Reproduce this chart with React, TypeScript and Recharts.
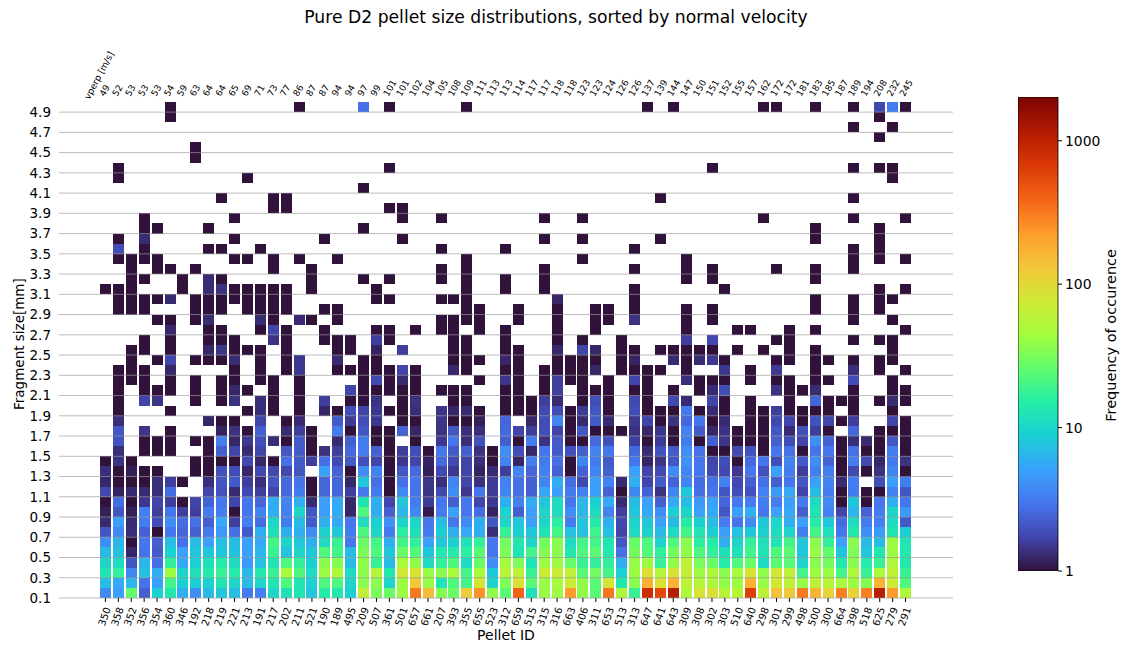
import React from 'react';
import { BarChart, Bar, Cell, XAxis, YAxis, ReferenceLine } from 'recharts';

const FONT = '"DejaVu Sans", sans-serif';

const pelletIds = [350, 358, 352, 356, 354, 360, 346, 192, 218, 219, 221, 213, 191, 217, 202, 211, 521, 190, 189, 495, 209, 507, 361, 501, 657, 661, 207, 393, 355, 655, 523, 312, 659, 515, 315, 316, 663, 406, 311, 653, 513, 313, 647, 641, 643, 309, 308, 302, 303, 510, 640, 298, 301, 299, 498, 500, 300, 664, 398, 518, 625, 279, 291];
const vperp = [49, 52, 53, 53, 53, 54, 59, 63, 64, 64, 65, 69, 71, 73, 77, 86, 87, 87, 94, 94, 97, 99, 101, 101, 102, 104, 105, 108, 109, 111, 113, 113, 114, 117, 117, 118, 118, 123, 123, 124, 126, 126, 137, 139, 144, 147, 150, 151, 152, 155, 157, 162, 172, 172, 181, 183, 185, 187, 189, 194, 208, 232, 245];
const yTicks = [0.1, 0.3, 0.5, 0.7, 0.9, 1.1, 1.3, 1.5, 1.7, 1.9, 2.1, 2.3, 2.5, 2.7, 2.9, 3.1, 3.3, 3.5, 3.7, 3.9, 4.1, 4.3, 4.5, 4.7, 4.9];
const colorbarTicks = [1, 10, 100, 1000];
const turboColors = ['#30123b', '#4145ab', '#4675ed', '#39a2fc', '#1bcfd4', '#24eca6', '#61fc6c', '#a4fc3b', '#d1e834', '#f3c63a', '#fe9b2d', '#f36315', '#d93806', '#b11901', '#7a0402'];

// one line per pellet, counts for the sizes 1.5 down to 0.1 (0 = empty)
const lowCounts = [
    [0, 1, 1.35, 1.25, 1.8, 1, 1.15, 1.3, 2.1, 4, 7, 10, 13, 7, 3.8],
    [1.35, 1.4, 1, 1, 1.2, 2.7, 2.1, 5, 3.8, 6.5, 7.5, 11, 17, 5.5, 5],
    [0, 1, 1.15, 1, 1.3, 1, 1.15, 1.3, 1.35, 1, 1.25, 2.1, 3.6, 6.5, 26],
    [1, 0, 1, 1, 1.3, 1.5, 3.4, 3.3, 2.4, 3, 2.9, 6.5, 7.5, 2.9, 2.3],
    [1, 0, 1, 1.35, 1.35, 1.7, 1.6, 1.9, 1, 2.3, 2.2, 2.8, 6, 5, 9],
    [1, 0, 0, 1.6, 2.7, 1.6, 3, 4, 3, 7, 9, 17, 42, 20, 14],
    [0, 0, 0, 1, 0, 1, 1.6, 2.7, 2.5, 2.8, 5, 5.5, 10, 9, 6],
    [0, 1, 1, 0, 0, 1.7, 1.6, 2.8, 2.3, 7, 8, 9, 12, 9, 4],
    [1, 1, 1, 1.35, 1.7, 2.4, 3.2, 2.3, 3.2, 5, 8, 12, 15, 9, 7],
    [2.3, 1, 2, 2.1, 2, 3, 3.3, 5.5, 4.5, 7.5, 8, 15, 18, 13, 8],
    [1.7, 1, 1.9, 2.2, 1.3, 1.7, 1, 1.6, 2.8, 7, 7.5, 11, 15, 10, 7],
    [1.3, 1.8, 1.25, 1.6, 1.8, 3, 3, 3.3, 2.2, 5, 5, 4.5, 6.5, 7, 3.2],
    [1.7, 1.25, 1.8, 1.35, 1.6, 2.5, 3.5, 2.7, 6, 5.5, 6.5, 7.5, 14, 10, 3.4],
    [0, 1, 1.8, 2.1, 1.7, 6, 6, 10, 12, 20, 18, 13, 18, 13, 10],
    [2.1, 2.8, 1.8, 2.6, 2.6, 3.6, 3.4, 3.3, 6, 10, 7.5, 22, 48, 22, 12],
    [2.2, 2.2, 2.1, 2.9, 3.2, 6, 10, 7, 6, 8, 10, 17, 22, 13, 13],
    [1, 1.6, 0, 1, 1, 1.3, 2.1, 2.2, 3.8, 6, 8, 9, 11, 9, 8],
    [1.4, 2.8, 5, 2.5, 2.5, 5, 5, 6, 9.5, 11, 22, 36, 42, 22, 15],
    [1.6, 1.8, 2.4, 2.5, 2.5, 5.5, 6, 5.5, 8, 18, 20, 35, 50, 22, 14],
    [2.6, 2.2, 1, 1.25, 1.6, 1.25, 1.25, 3, 3.2, 3, 7, 7, 11, 10, 9],
    [3.2, 2, 4, 8, 3.2, 13, 22, 11, 22, 28, 32, 38, 36, 36, 65],
    [2.3, 1.7, 3.5, 2.8, 3.2, 6, 6, 9, 10, 20, 22, 18, 55, 36, 32],
    [1, 1, 1, 1, 1, 1.7, 2.3, 4.2, 3.2, 6, 8, 7, 14, 10, 28],
    [1.6, 1.5, 2.1, 2.8, 3.8, 8, 6.5, 9.5, 16, 20, 28, 45, 75, 42, 42],
    [1.9, 1.7, 2.6, 3, 2.9, 3.2, 3.8, 10, 12, 17, 23, 38, 85, 130, 320],
    [1, 1.2, 1.15, 1.45, 1.4, 1.55, 1.1, 3, 3.2, 5, 8, 11, 40, 40, 150],
    [3, 2.6, 1.8, 1.35, 1.8, 3, 3.2, 7, 9, 8, 14, 17, 36, 13, 35],
    [2.2, 1.8, 1.5, 3.6, 4, 2.3, 5, 3, 6, 9, 15, 22, 45, 22, 28],
    [2.3, 1.7, 1.7, 1.7, 1.5, 3, 3, 3.8, 5.5, 12, 16, 11, 20, 20, 120],
    [1.4, 1.35, 1.2, 1.4, 3, 1.7, 2.7, 6, 6, 17, 24, 28, 45, 80, 250],
    [1, 1, 1.3, 1.55, 1.55, 1.5, 1.2, 2.1, 1.35, 3, 3, 4, 8, 10, 38],
    [4, 3.6, 1.6, 3.4, 3.6, 6, 9.5, 10, 18, 30, 33, 45, 55, 33, 24],
    [1.9, 1.25, 3.6, 2.8, 2.8, 3.4, 2.3, 8, 9, 14, 13, 33, 60, 85, 400],
    [1.25, 3.3, 2.5, 2.4, 2.4, 6, 5, 5, 8, 10, 20, 13, 18, 24, 12],
    [3, 3.2, 3.4, 3.6, 5.5, 8, 10, 10, 13, 30, 34, 42, 68, 40, 40],
    [2.2, 2.8, 2.4, 6, 5, 11, 11, 16, 20, 36, 36, 42, 70, 45, 42],
    [2, 1, 1, 2.7, 3.2, 3, 4, 3.2, 7.5, 11, 14, 27, 60, 70, 230],
    [2.3, 3.6, 2.4, 1.8, 3.4, 6.5, 6.5, 8, 7.5, 20, 22, 18, 24, 38, 38],
    [3.5, 3.2, 3.6, 5, 5, 9, 11, 14, 19, 20, 24, 17, 30, 24, 24],
    [3, 2.2, 2.3, 3.4, 2.4, 5.5, 3.5, 6, 7.5, 13, 14, 17, 20, 80, 330],
    [0, 0, 0, 1.3, 1, 1.3, 1.6, 1.8, 1.7, 2.1, 2.8, 6, 9, 14, 50],
    [2.6, 3, 5, 6, 3.6, 7, 8, 9.5, 11, 27, 30, 40, 42, 36, 18],
    [1.3, 1.2, 1.7, 1.7, 2.4, 5, 5.5, 8, 9.5, 22, 23, 42, 90, 170, 800],
    [2, 1.45, 1.8, 2.2, 1.4, 2.3, 4, 5, 7, 9.5, 17, 18, 55, 85, 550],
    [2.2, 2.1, 3.8, 2.4, 3.6, 5.5, 9, 7, 11, 22, 30, 38, 85, 170, 1100],
    [4, 4.2, 3.6, 3.6, 8, 7, 10, 15, 20, 36, 38, 60, 65, 60, 50],
    [2.8, 3, 3, 2.7, 2.8, 4.5, 5, 9, 13, 16, 22, 32, 42, 55, 85],
    [1, 1.7, 1.8, 2.8, 3, 5, 5.5, 7, 9, 15, 17, 28, 50, 50, 90],
    [1, 1.9, 1.8, 3.4, 2.1, 2.5, 2.1, 3.2, 5, 6, 12, 15, 36, 38, 55],
    [1.8, 1, 1.5, 1.8, 1.9, 3, 5, 2.9, 7.5, 10, 12, 22, 45, 42, 55],
    [2, 2.6, 3, 2.3, 2, 3.2, 6, 3.8, 8, 17, 20, 28, 85, 170, 620],
    [1, 3, 2, 2.8, 3.4, 3.3, 3, 8, 9, 12, 13, 11, 38, 40, 60],
    [3, 1.9, 5, 2.3, 4.5, 3.2, 5, 10, 11, 13, 22, 24, 80, 75, 140],
    [2.8, 3.5, 3.3, 3, 5.5, 5, 5.5, 6, 10, 20, 24, 24, 60, 60, 130],
    [1, 2.2, 1.6, 2.1, 1.7, 3.2, 2.3, 5, 3.3, 8, 8, 10, 20, 40, 320],
    [2.9, 4, 3.3, 5, 7, 11, 13, 15, 20, 36, 40, 36, 42, 60, 170],
    [3, 2.4, 3.3, 3.5, 3.3, 3.8, 3.4, 8, 12, 17, 26, 30, 40, 55, 110],
    [1, 1, 1, 1.3, 1, 1, 1.7, 2.7, 3, 5, 8, 14, 20, 45, 300],
    [2.8, 3.3, 1.8, 3.3, 3.2, 8, 6.5, 11, 14, 36, 33, 36, 50, 42, 110],
    [1, 1.8, 1, 0, 1, 1, 2.4, 3.2, 4, 7, 8, 15, 18, 35, 300],
    [1, 1.25, 1.4, 1.9, 1, 3, 3.2, 3.4, 4.8, 7, 14, 18, 48, 170, 1050],
    [3.3, 3.2, 3.6, 5, 3.4, 6, 10, 11, 13, 42, 42, 50, 60, 70, 230],
    [1, 1.4, 1, 3.3, 2.1, 3, 4.5, 2.2, 9, 13, 14, 14, 18, 22, 50],
];

// sizes 1.6 up to 4.9: pellets (by position) with a single count in that size
const upperOnes = [
    [3, 4, 5, 7, 8, 14, 16, 21, 22, 24, 32, 36, 37, 42, 44, 46, 49, 50, 51, 57, 60, 62],
    [5, 11, 16, 19, 21, 22, 36, 38, 39, 40, 44, 49, 50, 51, 56, 60, 61, 62],
    [9, 10, 14, 23, 24, 27, 28, 36, 43, 47, 50, 51, 54, 57, 62],
    [1, 5, 11, 13, 15, 18, 22, 23, 29, 31, 32, 33, 36, 39, 42, 43, 44, 46, 48, 50, 51, 53, 54, 55, 56, 58, 61],
    [1, 7, 9, 13, 15, 19, 20, 23, 27, 28, 31, 32, 33, 37, 39, 42, 48, 50, 53, 56, 57, 58, 60, 62],
    [1, 3, 4, 5, 7, 9, 11, 13, 15, 20, 21, 22, 23, 24, 26, 27, 28, 31, 32, 34, 37, 38, 39, 41, 42, 44, 46, 53, 54, 58, 61, 62],
    [1, 2, 3, 5, 7, 9, 10, 12, 13, 15, 20, 22, 24, 29, 32, 34, 36, 37, 39, 42, 46, 47, 48, 50, 52, 53, 55, 56, 61],
    [1, 2, 3, 10, 12, 14, 18, 19, 20, 21, 22, 24, 28, 31, 32, 34, 35, 36, 37, 40, 41, 42, 43, 45, 50, 55, 60, 62],
    [2, 4, 7, 8, 9, 12, 14, 20, 21, 27, 28, 29, 32, 35, 36, 37, 38, 40, 45, 48, 52, 53, 55, 56, 58, 60, 61],
    [2, 3, 5, 10, 11, 12, 14, 18, 19, 27, 28, 31, 32, 40, 41, 43, 44, 45, 46, 47, 49, 51, 53, 55, 61],
    [3, 5, 8, 9, 10, 14, 17, 18, 19, 22, 27, 28, 31, 35, 37, 40, 52, 53, 58, 60, 61],
    [8, 9, 12, 14, 17, 21, 22, 24, 26, 27, 29, 31, 35, 38, 45, 49, 50, 53, 55, 62],
    [4, 5, 7, 13, 16, 18, 26, 27, 28, 29, 32, 35, 38, 39, 45, 47, 58, 61],
    [1, 2, 3, 7, 8, 9, 11, 12, 13, 14, 17, 18, 28, 29, 32, 35, 38, 39, 41, 45, 47, 55, 58, 60],
    [1, 2, 3, 4, 7, 8, 9, 10, 11, 12, 13, 14, 21, 22, 26, 27, 28, 41, 55, 58, 60, 61],
    [0, 1, 2, 6, 10, 11, 12, 13, 14, 16, 21, 28, 31, 34, 41, 48, 60, 62],
    [2, 3, 6, 9, 16, 20, 22, 26, 28, 31, 34, 45, 47, 55],
    [2, 4, 5, 7, 13, 16, 26, 28, 34, 41, 45, 47, 52, 55, 58],
    [1, 2, 3, 4, 10, 11, 13, 15, 18, 28, 37, 45, 58, 60, 62],
    [3, 8, 9, 12, 26, 31, 41, 58, 60],
    [1, 10, 17, 23, 34, 37, 43, 55, 60],
    [3, 4, 8, 20, 55, 60],
    [3, 10, 23, 26, 34, 37, 51, 58, 62],
    [13, 14, 22, 23],
    [9, 13, 14, 43, 58],
    [20],
    [1, 11, 61],
    [1, 22, 47, 58, 60, 61],
    [7],
    [7],
    [60],
    [58, 61],
    [5, 60],
    [5, 15, 22, 28, 42, 44, 51, 52, 55, 58, 62],
];

// same sizes: pellets whose count is above one, as [position, count]
const upperOthers = [
    [[1, 2], [9, 3.3], [10, 1.25], [11, 1.5], [12, 1.9], [13, 1.35], [15, 2.2], [18, 1.3], [19, 2.3], [20, 3.3], [26, 1.5], [27, 3], [28, 1.35], [29, 2], [31, 2.3], [33, 3.3], [34, 1.4], [35, 2.2], [38, 2.6], [39, 2], [41, 1.6], [43, 1.55], [45, 3.2], [47, 2.3], [48, 1.45], [52, 2.3], [53, 1.9], [54, 1.7], [55, 4], [56, 2.4], [58, 1.35], [59, 1.3], [61, 2.1]],
    [[1, 2.1], [3, 1.45], [9, 1.2], [10, 1.4], [12, 2.3], [14, 1.3], [15, 1.6], [18, 3.2], [20, 2.1], [23, 2.4], [24, 1.25], [26, 1.4], [27, 2.1], [28, 1.35], [29, 1.35], [31, 2.6], [32, 1.7], [33, 1.6], [34, 1.9], [35, 1.7], [37, 2.1], [41, 1.4], [42, 1.25], [43, 1.45], [45, 3.5], [46, 2.2], [47, 1.25], [48, 1.4], [52, 2.1], [53, 1.3], [54, 2], [55, 1.6], [58, 2.6]],
    [[1, 1.35], [8, 1.25], [12, 1.7], [15, 1.3], [18, 2.2], [19, 1.55], [20, 1.9], [21, 1.5], [26, 1.45], [29, 1.15], [31, 2.5], [33, 1.25], [34, 1.9], [35, 3.6], [37, 1.3], [38, 2.2], [39, 1.3], [41, 1.5], [42, 1.7], [44, 1.4], [45, 2.6], [46, 3], [48, 1.3], [52, 1.8], [53, 1.7], [55, 2], [56, 1.7], [58, 1.6], [61, 1.7]],
    [[12, 1.35], [17, 1.25], [19, 1.9], [20, 1.7], [21, 1.5], [24, 1.35], [26, 1.45], [27, 1.25], [28, 1.3], [34, 1.8], [35, 1.9], [37, 1.55], [38, 2.1], [41, 1.9], [45, 3.2], [47, 1.3], [52, 1.6]],
    [[3, 1.7], [4, 1.45], [10, 1.4], [12, 1.35], [17, 1.6], [21, 1.4], [24, 1.4], [34, 1.6], [35, 1.3], [38, 1.9], [41, 1.8], [44, 1.8], [45, 1.3], [47, 1.7], [55, 2.5], [61, 1.3]],
    [[10, 1.25], [19, 1.7], [35, 1.6], [47, 1.3], [48, 1.9], [52, 1.4], [55, 1.3]],
    [[21, 1.8], [23, 1.3], [31, 1.45], [35, 1.6], [41, 1.7], [45, 1.35], [58, 1.9]],
    [[5, 1.25], [15, 1.5], [23, 1.7], [27, 1.25], [38, 1.25], [48, 1.5], [52, 1.55], [58, 1.35]],
    [[5, 1.7], [10, 1.3], [15, 1.5], [18, 1.3], [31, 1.25], [41, 1.2], [44, 1.3], [46, 1.3], [47, 1.5]],
    [[8, 1.25], [9, 1.45], [21, 1.2], [23, 1.6], [35, 1.25], [37, 1.7], [38, 1.25]],
    [[13, 1.4], [21, 1.6], [45, 1.6], [47, 1.8]],
    [[5, 1.25], [13, 1.7]],
    [[8, 1.3], [12, 1.3], [15, 1.3], [41, 1.4]],
    [],
    [[5, 1.3], [35, 1.25]],
    [[8, 1.3], [9, 1.4]],
    [[8, 1.3]],
    [],
    [],
    [[1, 1.9]],
    [[3, 1.3]],
    [],
    [],
    [],
    [],
    [],
    [],
    [],
    [],
    [],
    [],
    [],
    [],
    [[20, 2.8], [60, 1.8], [61, 3.2]],
];

const ROWS = 49;
const COLORBAR_MAX = 2018;

// rows[r][c]: r = 0 is size 0.1, r = 48 is size 4.9
const counts: number[][] = Array.from({ length: ROWS }, () => pelletIds.map(() => 0));
lowCounts.forEach((col, c) => {
    col.forEach((v, k) => {
        counts[14 - k][c] = v;
    });
});
upperOnes.forEach((cols, k) => {
    cols.forEach(c => {
        counts[15 + k][c] = 1;
    });
});
upperOthers.forEach((pairs, k) => {
    pairs.forEach(([c, v]) => {
        counts[15 + k][c] = v;
    });
});

const tableData = pelletIds.map((id, c) => {
    const row: Record<string, number> = { id, vperp: vperp[c], base: 0.1 };
    for (let r = 0; r < ROWS; r++) row[`s${r}`] = 0.1;
    return row;
});

// Turbo colormap, linear between the anchor colours
const hexToRgb = (h: string) => [1, 3, 5].map(i => parseInt(h.slice(i, i + 2), 16));
const turbo = (t: number) => {
    const p = Math.min(1, Math.max(0, t)) * (turboColors.length - 1);
    const i = Math.min(turboColors.length - 2, Math.floor(p));
    const a = hexToRgb(turboColors[i]);
    const b = hexToRgb(turboColors[i + 1]);
    const mix = a.map((v, k) => Math.round(v + (b[k] - v) * (p - i)));
    return `rgb(${mix.join(',')})`;
};
const colorFor = (v: number) => turbo(Math.log10(v) / Math.log10(COLORBAR_MAX));
const gradientStops = Array.from({ length: 57 }, (_, i) => i / 56);

const BottomTick = ({ x, y, payload }: any) => (
    <text
        transform={`translate(${x - 1},${y + 12.5}) rotate(-70)`}
        textAnchor="middle"
        dominantBaseline="central"
        fontSize={10}
        fontFamily={FONT}
        fill="#000"
    >
        {payload.value}
    </text>
);

const TopTick = ({ x, payload, index }: any) => (
    <g>
        <text
            transform={`translate(${x - 1},97) rotate(-60)`}
            textAnchor="start"
            fontSize={9}
            fontFamily={FONT}
            fill="#000"
        >
            {payload.value}
        </text>
        {index === 0 && (
            <text
                transform={`translate(${x - 16},100) rotate(-62)`}
                textAnchor="start"
                fontSize={9}
                fontFamily={FONT}
                fill="#000"
            >
                vperp [m/s]
            </text>
        )}
    </g>
);

const App = () => (
    <div style={{ position: 'absolute', left: 0, top: 0, width: 1126, height: 646, background: '#fff' }}>
        <div
            style={{
                position: 'absolute',
                left: 0,
                top: 7,
                width: 1112,
                textAlign: 'center',
                fontFamily: FONT,
                fontSize: 17.2,
                color: '#000',
            }}
        >
            Pure D2 pellet size distributions, sorted by normal velocity
        </div>
        <div style={{ position: 'absolute', left: 0, top: 0 }}>
            <BarChart
                width={953}
                height={646}
                data={tableData}
                margin={{ top: 82, right: 0, bottom: 0, left: 0 }}
                barSize={11}
            >
                <XAxis
                    xAxisId="bottom"
                    dataKey="id"
                    interval={0}
                    padding={{ left: 40, right: 41 }}
                    height={48}
                    axisLine={false}
                    tickLine={{ stroke: '#000' }}
                    tickSize={4}
                    tick={<BottomTick />}
                    label={{ value: 'Pellet ID', position: 'insideBottom', offset: 6, fontSize: 14, fontFamily: FONT, fill: '#000' }}
                />
                <XAxis
                    xAxisId="top"
                    orientation="top"
                    dataKey="vperp"
                    interval={0}
                    padding={{ left: 40, right: 41 }}
                    height={20}
                    axisLine={false}
                    tickLine={false}
                    tick={<TopTick />}
                />
                <YAxis
                    type="number"
                    domain={[0.1, 5]}
                    ticks={yTicks}
                    interval={0}
                    allowDataOverflow
                    width={59}
                    axisLine={false}
                    tickLine={false}
                    tickMargin={2}
                    tick={{ fontSize: 13.5, fontFamily: FONT, fill: '#000' }}
                    label={{ value: 'Fragment size[mm]', angle: -90, position: 'insideLeft', offset: 19, fontSize: 13.5, fontFamily: FONT, fill: '#000', dy: 60 }}
                />
                <Bar xAxisId="bottom" dataKey="base" stackId="a" fill="none" isAnimationActive={false} />
                {counts.map((rowCounts, r) => (
                    <Bar key={r} xAxisId="bottom" dataKey={`s${r}`} stackId="a" isAnimationActive={false}>
                        {rowCounts.map((v, c) => (
                            <Cell key={c} fill={v > 0 ? colorFor(v) : 'none'} shapeRendering="crispEdges" />
                        ))}
                    </Bar>
                ))}
                {yTicks.map(t => (
                    <ReferenceLine key={t} xAxisId="bottom" y={t} stroke="#999" strokeOpacity={0.75} strokeWidth={0.9} />
                ))}
            </BarChart>
        </div>
        <div style={{ position: 'absolute', left: 1018, top: 0 }}>
            <BarChart
                width={108}
                height={646}
                data={[{ name: 'Frequency', range: [1, COLORBAR_MAX] }]}
                margin={{ top: 97, right: 0, bottom: 75, left: 0 }}
                barCategoryGap={0}
            >
                <defs>
                    <linearGradient id="turboGradient" x1="0" y1="1" x2="0" y2="0">
                        {gradientStops.map(s => (
                            <stop key={s} offset={s} stopColor={turbo(s)} />
                        ))}
                    </linearGradient>
                </defs>
                <XAxis dataKey="name" hide />
                <YAxis
                    type="number"
                    orientation="right"
                    scale="log"
                    domain={[1, COLORBAR_MAX]}
                    ticks={colorbarTicks}
                    interval={0}
                    allowDataOverflow
                    width={68}
                    axisLine={false}
                    tickLine={{ stroke: '#000' }}
                    tickSize={4}
                    tickMargin={3}
                    tick={{ fontSize: 13.9, fontFamily: FONT, fill: '#000' }}
                    label={{ value: 'Frequency of occurence', angle: -90, position: 'insideRight', offset: 15, fontSize: 14.5, fontFamily: FONT, fill: '#000', dy: -85 }}
                />
                <Bar dataKey="range" fill="url(#turboGradient)" stroke="#000" strokeWidth={0.8} isAnimationActive={false} />
            </BarChart>
        </div>
    </div>
);

export default App;
